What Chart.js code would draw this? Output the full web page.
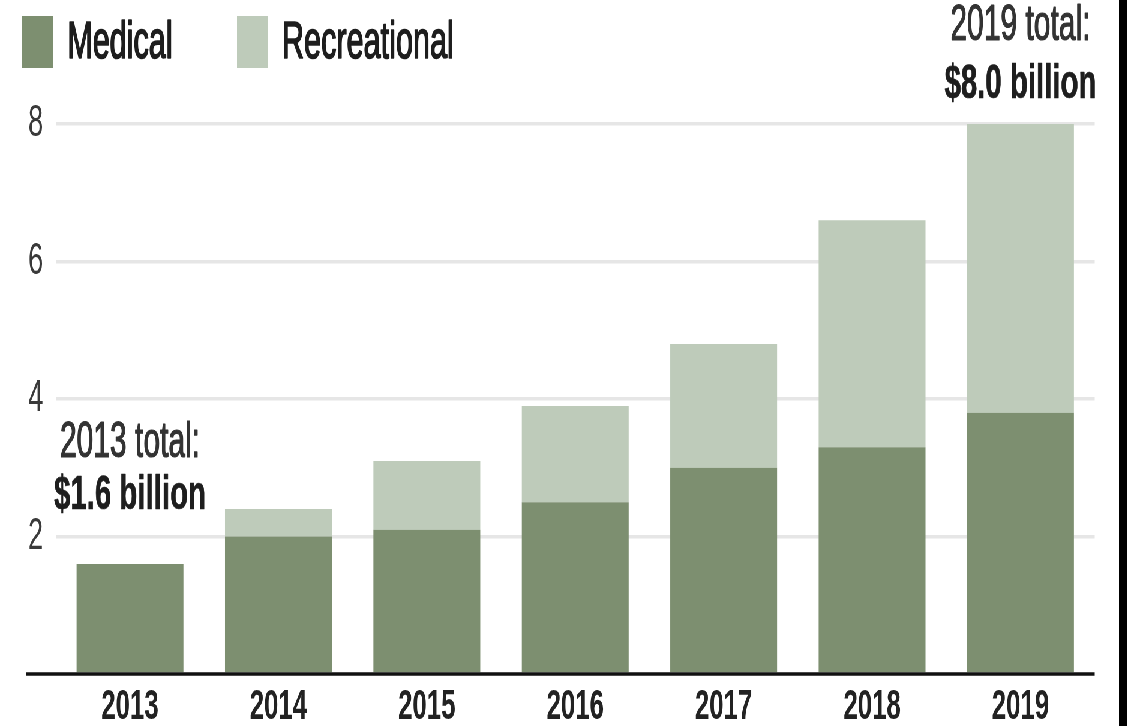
<!DOCTYPE html>
<html>
<head>
<meta charset="utf-8">
<script src="https://cdn.jsdelivr.net/npm/chart.js@4.4.0/dist/chart.umd.min.js"></script>
<style>
    html, body { margin: 0; padding: 0; background: #000; overflow: hidden; }
    /* the source graphic is squeezed sideways, so draw wide and compress */
    #wrap { position: absolute; left: 0; top: 0; width: 1865px; height: 726px; background: #fff;
            transform: scaleX(0.6); transform-origin: 0 0; }
</style>
</head>
<body>
<div id="wrap"><canvas id="chartVendas"></canvas></div>
<script>
var anos = ['2013', '2014', '2015', '2016', '2017', '2018', '2019'];
var medicinal = [1.6, 2.0, 2.1, 2.5, 3.0, 3.3, 3.8];
var recreativo = [0, 0.4, 1.0, 1.4, 1.8, 3.3, 4.2];
var yTicks = [2, 4, 6, 8];
var notas = [
    { idx: 0, linha1: '2013 total:', linha2: '$1.6 billion' },
    { idx: 6, linha1: '2019 total:', linha2: '$8.0 billion' }
];

var corMed = '#7d8f70';
var corRec = '#becbba';
var fonte = '"Liberation Sans", Arial, sans-serif';

// texto com contorno leve (a fonte comprimida fica fina demais)
function textoGrosso(ctx, txt, x, y, cor, lw) {
    ctx.fillStyle = cor;
    ctx.strokeStyle = cor;
    ctx.lineWidth = lw;
    ctx.lineJoin = 'round';
    ctx.strokeText(txt, x, y);
    ctx.fillText(txt, x, y);
}

// legenda desenhada a mao (caixas altas, espaçamento largo)
var legendaPlugin = {
    id: 'legendaManual',
    afterDraw: function (chart) {
        var ctx = chart.ctx;
        var xs = [[37, 112], [395, 470]];
        ctx.save();
        ctx.font = '51px ' + fonte;
        ctx.textBaseline = 'middle';
        chart.data.datasets.forEach(function (ds, i) {
            ctx.fillStyle = ds.backgroundColor;
            ctx.fillRect(xs[i][0], 16, 52, 52);
            textoGrosso(ctx, ds.label, xs[i][1], 44, '#1e1e1e', 1.6);
        });
        ctx.restore();
    }
};

// linha do zero que passa um pouco para a esquerda + textos de total
var extrasPlugin = {
    id: 'extras',
    afterDatasetsDraw: function (chart) {
        var ctx = chart.ctx;
        var ys = chart.scales.y, xs = chart.scales.x;
        var y0 = ys.getPixelForValue(0);
        ctx.save();
        ctx.strokeStyle = '#111';
        ctx.lineWidth = 3.5;
        ctx.beginPath();
        ctx.moveTo(43, y0);
        ctx.lineTo(chart.chartArea.right, y0);
        ctx.stroke();

        var offs = [[-121, -69], [-98, -40]];
        ctx.textAlign = 'center';
        ctx.textBaseline = 'middle';
        notas.forEach(function (n, k) {
            var cx = xs.getPixelForValue(n.idx);
            var topo = ys.getPixelForValue(medicinal[n.idx] + recreativo[n.idx]);
            ctx.font = '50px ' + fonte;
            textoGrosso(ctx, n.linha1, cx, topo + offs[k][0], '#333', 1.2);
            ctx.font = 'bold 49px ' + fonte;
            textoGrosso(ctx, n.linha2, cx, topo + offs[k][1], '#1e1e1e', 0.6);
        });
        ctx.restore();
    }
};

new Chart(document.getElementById('chartVendas'), {
    type: 'bar',
    data: {
        labels: anos,
        datasets: [
            { label: 'Medical', data: medicinal, backgroundColor: corMed, borderWidth: 0 },
            { label: 'Recreational', data: recreativo, backgroundColor: corRec, borderWidth: 0 }
        ]
    },
    options: {
        responsive: true, maintainAspectRatio: false, animation: false,
        layout: { padding: { top: 124, right: 40.5, bottom: 0, left: 0 } },
        datasets: { bar: { categoryPercentage: 1, barPercentage: 0.72 } },
        plugins: { legend: { display: false }, tooltip: { enabled: false } },
        scales: {
            x: {
                stacked: true,
                grid: { display: false },
                border: { display: false },
                ticks: { color: '#222', font: { family: fonte, size: 43, weight: 'bold', lineHeight: 1 }, padding: 4 },
                afterFit: function (s) { s.height = 52; }
            },
            y: {
                stacked: true, min: 0, max: 8,
                afterBuildTicks: function (s) { s.ticks = [0].concat(yTicks).map(function (v) { return { value: v }; }); },
                ticks: {
                    color: '#3a3a3a', padding: 21,
                    font: { family: fonte, size: 45 },
                    callback: function (v) { return v === 0 ? '' : v; }
                },
                grid: {
                    drawTicks: false, lineWidth: 3.5,
                    color: function (c) { return c.tick && c.tick.value === 0 ? 'rgba(0,0,0,0)' : '#e6e6e6'; }
                },
                border: { display: false },
                afterFit: function (s) { s.width = 93; }
            }
        }
    },
    plugins: [legendaPlugin, extrasPlugin]
});
</script>
</body>
</html>
